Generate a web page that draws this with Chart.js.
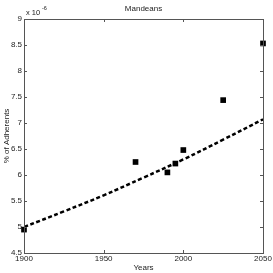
<!DOCTYPE html>
<html>
<head>
<meta charset="utf-8">
<script src="https://cdn.jsdelivr.net/npm/chart.js@4.4.1/dist/chart.umd.min.js"></script>
<style>
html,body{margin:0;padding:0;background:#fff;}
#wrap{width:273px;height:273px;position:relative;}
</style>
</head>
<body>
<div id="wrap"><canvas id="c" width="273" height="273"></canvas></div>
<script>
const titleText = "Mandeans";
const xTitle = "Years";
const yTitle = "% of Adherents";
const exponentText = "-6";
const obsYears = [1900, 1970, 1990, 1995, 2000, 2025, 2050];
const obsValues = [4.95, 6.25, 6.05, 6.22, 6.48, 7.44, 8.53];
const trendYears = [1900, 1925, 1950, 1975, 2000, 2025, 2050];
const trendValues = [5.00, 5.30, 5.61, 5.95, 6.30, 6.68, 7.07];
const xTicks = [1900, 1950, 2000, 2050];
const yTicks = [4.5, 5, 5.5, 6, 6.5, 7, 7.5, 8, 8.5, 9];

const FONT = "'Liberation Sans', Arial, sans-serif";
const AXIS = "#555";

const deco = {
  id: 'deco',
  afterDraw(chart) {
    const ctx = chart.ctx;
    const a = chart.chartArea;
    const xs = chart.scales.x, ys = chart.scales.y;
    ctx.save();
    ctx.strokeStyle = AXIS;
    ctx.lineWidth = 1;
    ctx.strokeRect(Math.round(a.left) + 0.5, Math.round(a.top) + 0.5, Math.round(a.right - a.left), Math.round(a.bottom - a.top));
    ctx.beginPath();
    xTicks.forEach(v => {
      const x = Math.round(xs.getPixelForValue(v)) + 0.5;
      ctx.moveTo(x, a.bottom); ctx.lineTo(x, a.bottom - 3);
      ctx.moveTo(x, a.top); ctx.lineTo(x, a.top + 3);
    });
    yTicks.forEach(v => {
      const y = Math.round(ys.getPixelForValue(v)) + 0.5;
      ctx.moveTo(a.left, y); ctx.lineTo(a.left + 3, y);
      ctx.moveTo(a.right, y); ctx.lineTo(a.right - 3, y);
    });
    ctx.stroke();
    ctx.fillStyle = '#222';
    ctx.textAlign = 'center';
    ctx.textBaseline = 'middle';
    ctx.font = '8px ' + FONT;
    ctx.fillText(titleText, (a.left + a.right) / 2, 9);
    ctx.fillText(xTitle, (a.left + a.right) / 2, 268);
    ctx.save();
    ctx.translate(7, (a.top + a.bottom) / 2);
    ctx.rotate(-Math.PI / 2);
    ctx.fillText(yTitle, 0, 0);
    ctx.restore();
    ctx.textAlign = 'left';
    ctx.font = '7.5px ' + FONT;
    ctx.fillText('x 10', a.left + 2, 13);
    ctx.font = '5.5px ' + FONT;
    ctx.fillText(exponentText, a.left + 18, 8);
    ctx.restore();
  }
};

new Chart(document.getElementById('c'), {
  type: 'scatter',
  data: {
    datasets: [
      {
        type: 'line',
        data: trendYears.map((x, i) => ({x: x, y: trendValues[i]})),
        borderColor: '#000',
        borderWidth: 2.5,
        borderDash: [4, 2.5],
        pointRadius: 0,
        tension: 0.4,
        fill: false
      },
      {
        data: obsYears.map((x, i) => ({x: x, y: obsValues[i]})),
        pointStyle: 'rect',
        pointRadius: 4,
        backgroundColor: '#000',
        borderColor: '#000',
        borderWidth: 0,
        clip: false
      }
    ]
  },
  options: {
    responsive: false,
    animation: false,
    devicePixelRatio: 1,
    layout: {padding: {top: 19, right: 10, left: 0, bottom: 0}},
    plugins: {legend: {display: false}, tooltip: {enabled: false}},
    scales: {
      x: {
        type: 'linear', min: 1900, max: 2050,
        grid: {display: false, drawTicks: false},
        border: {display: false},
        afterBuildTicks: s => { s.ticks = xTicks.map(v => ({value: v})); },
        ticks: {font: {size: 8, family: FONT}, color: '#222', padding: 1, maxRotation: 0, autoSkip: false,
                callback: v => String(v)},
        afterFit: s => { s.height = 20; }
      },
      y: {
        min: 4.5, max: 9,
        grid: {display: false, drawTicks: false},
        border: {display: false},
        afterBuildTicks: s => { s.ticks = yTicks.map(v => ({value: v})); },
        ticks: {font: {size: 8, family: FONT}, color: '#222', padding: 2, autoSkip: false,
                callback: v => String(v)},
        afterFit: s => { s.width = 24; }
      }
    }
  },
  plugins: [deco]
});
</script>
</body>
</html>
